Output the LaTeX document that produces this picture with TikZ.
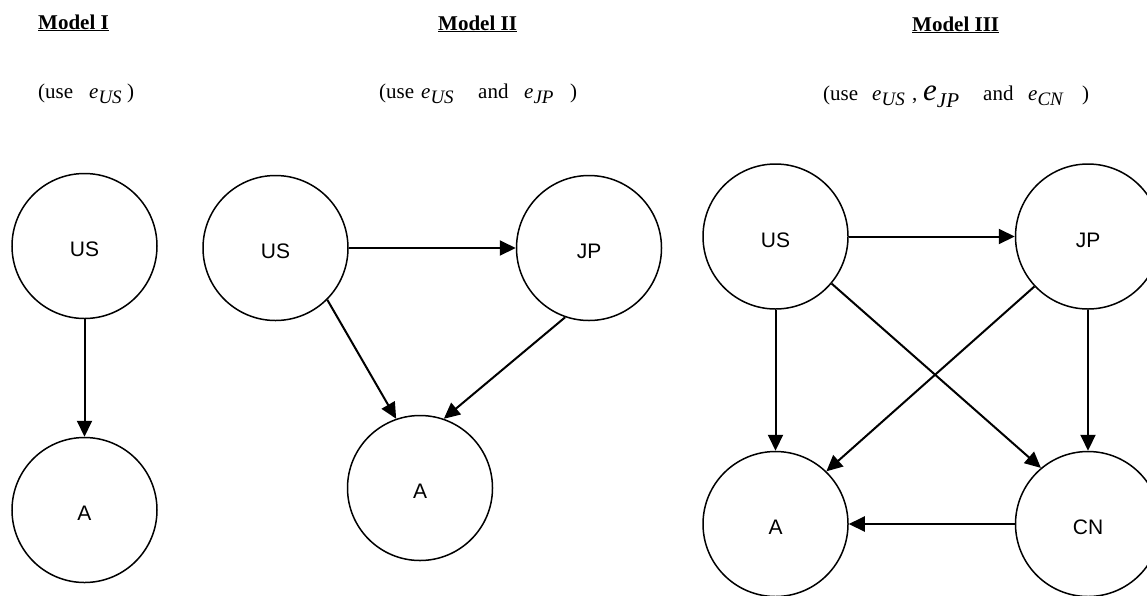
\documentclass[tikz,border=0pt]{standalone}
\usepackage{fontspec}
\setmainfont{Liberation Serif}
\newfontfamily\nodefont{Liberation Sans}
\usetikzlibrary{arrows.meta}

% variable with a subscript, as set in the headings
\newcommand\evar[1]{\textit{e}\raisebox{-5pt}{\fontsize{19}{19}\selectfont\itshape #1}}
\newcommand\bigevar[1]{{\fontsize{31}{31}\selectfont\itshape e}\raisebox{-7pt}{\fontsize{21}{21}\selectfont\itshape #1}}

\begin{document}
\begin{tikzpicture}[x=1pt,y=-1pt,
  var/.style={circle, draw, line width=1.5pt, minimum size=145pt, inner sep=0pt,
    text height=21pt, text depth=0pt,
    font=\nodefont\fontsize{21}{21}\selectfont},
  link/.style={line width=2pt, -{Triangle[length=16pt,width=15pt]}},
  head/.style={anchor=base west, inner sep=0pt, font=\fontsize{21}{21}\selectfont\bfseries},
  txt/.style={anchor=base west, inner sep=0pt, font=\fontsize{21}{21}\selectfont}]
\useasboundingbox (0,0) rectangle (1147,595);

% ---- headings ----
\node[head] (h1) at (38,29) {\underline{Model I}};
\node[head] (h2) at (438,30) {\underline{Model II}};
\node[head] (h3) at (912,31) {\underline{Model III}};

% Model I
\node[txt] (u1a) at (38,98) {(use};
\node[txt] (u1b) at (89,98) {\evar{US}};
\node[txt] (u1c) at (127,98) {)};
% Model II
\node[txt] (u2a) at (379,98) {(use};
\node[txt] (u2b) at (421,98) {\evar{US}};
\node[txt] (u2c) at (478,98) {and};
\node[txt] (u2d) at (524,98) {\evar{JP}};
\node[txt] (u2e) at (570,98) {)};
% Model III
\node[txt] (u3a) at (823,100) {(use};
\node[txt] (u3b) at (872,100) {\evar{US}};
\node[txt] (u3c) at (912,100) {,};
\node[txt] (u3d) at (923,100) {\bigevar{JP}};
\node[txt] (u3e) at (983,100) {and};
\node[txt] (u3f) at (1028,100) {\evar{CN}};
\node[txt] (u3g) at (1082,100) {)};

% ---- Model I ----
\node[var] (us1) at (84.5,246) {US};
\node[var] (a1)  at (84.5,510) {A};
\draw[link] (us1.south) -- (a1.north);

% ---- Model II ----
\node[var] (us2) at (275.5,248) {US};
\node[var] (jp2) at (589,248) {JP};
\node[var] (a2)  at (420,488) {A};
\draw[link] (us2.east) -- (jp2.west);
\draw[link] (us2.-45) -- (a2.109);
\draw[link] (jp2.-109) -- (a2.71);

% ---- Model III ----
\node[var] (us3) at (775.5,236.5) {US};
\node[var] (jp3) at (1088,236.5) {JP};
\node[var] (a3)  at (775.5,524) {A};
\node[var] (cn3) at (1088,524) {CN};
\draw[link] (us3.east) -- (jp3.west);
\draw[link] (us3.south) -- (a3.north);
\draw[link] (jp3.south) -- (cn3.north);
\draw[link] (cn3.west) -- (a3.east);
\draw[link] (us3.-40) -- (cn3.130);
\draw[link] (jp3.-137) -- (a3.46);
\end{tikzpicture}
\end{document}
